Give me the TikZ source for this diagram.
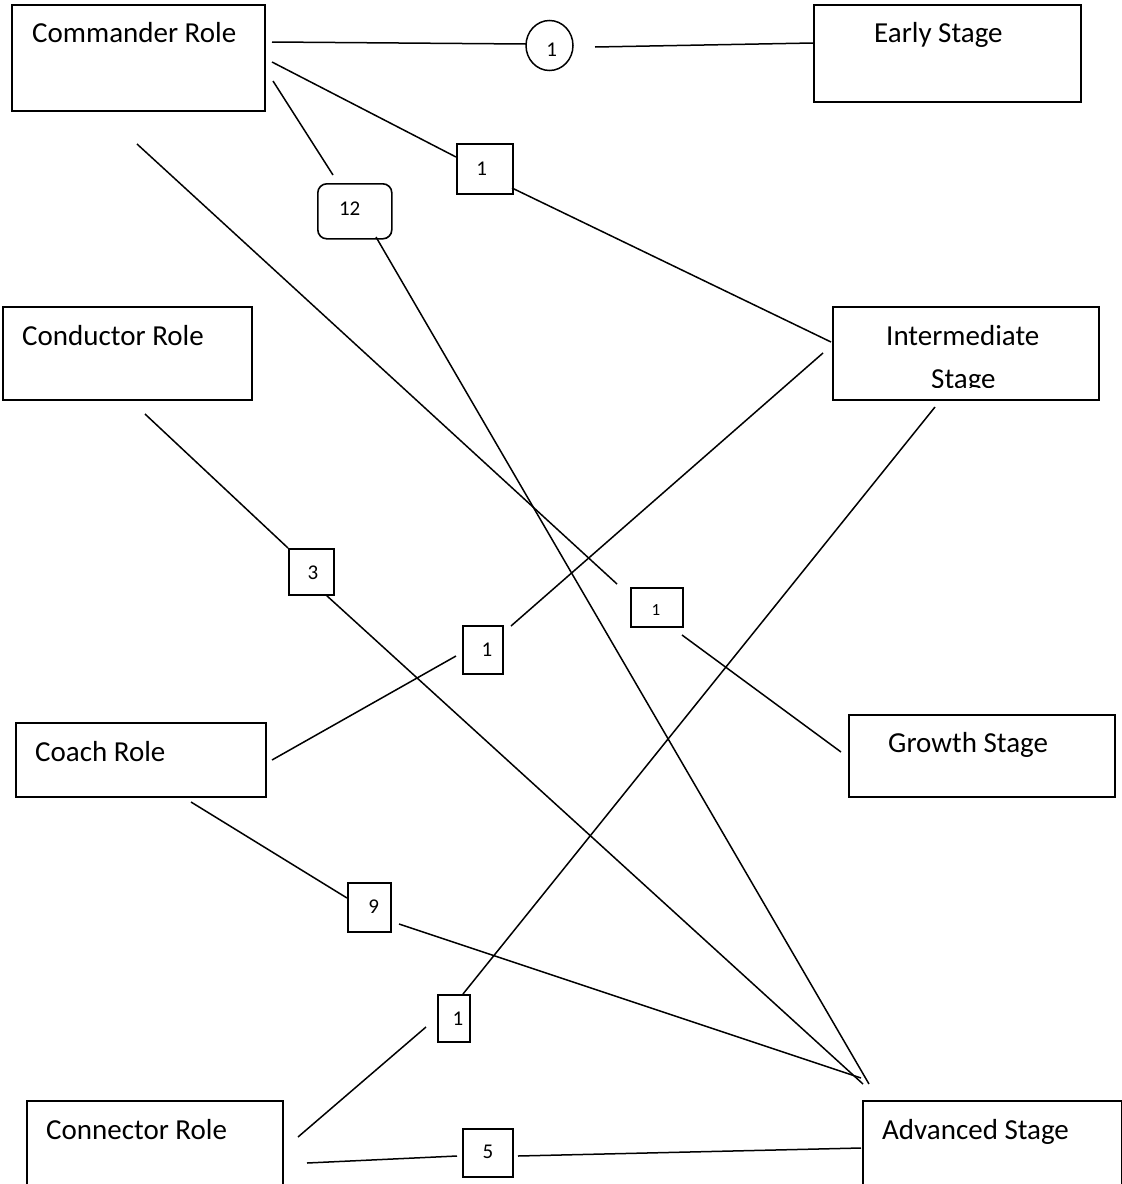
\documentclass[tikz,border=0pt]{standalone}
\usepackage{fontspec}
\setmainfont{Carlito}
\usetikzlibrary{shapes.geometric}
\begin{document}
\begin{tikzpicture}[x=1pt,y=-1pt,
  bigbox/.style={draw=black, line width=1.8pt, rectangle, inner sep=0pt, anchor=north west},
  numbox/.style={draw=black, line width=1.6pt, rectangle, inner sep=0pt, anchor=north west},
  bigtext/.style={inner sep=0pt, anchor=base west, font=\fontsize{29}{43}\selectfont},
  numtext/.style={inner sep=0pt, anchor=center, font=\fontsize{21}{25}\selectfont},
  smalltext/.style={inner sep=0pt, anchor=center, font=\fontsize{17}{20}\selectfont},
  link/.style={draw=black, line width=1.5pt}]
\fill[white] (0,0) rectangle (1122,1184);
\useasboundingbox (0,0) rectangle (1122,1184);

% main boxes
\node[bigbox, minimum width=253pt, minimum height=106pt] (cmd) at (11,4) {};
\node[bigbox, minimum width=267pt, minimum height=97pt] (early) at (813,4) {};
\node[bigbox, minimum width=266pt, minimum height=93pt] (inter) at (832,306) {};
\node[bigbox, minimum width=249pt, minimum height=93pt] (cond) at (2,306) {};
\node[bigbox, minimum width=266pt, minimum height=82pt] (growth) at (848,714) {};
\node[bigbox, minimum width=250pt, minimum height=74pt] (coach) at (15,722) {};
\node[bigbox, minimum width=256pt, minimum height=95pt] (conn) at (26,1100) {};
\node[bigbox, minimum width=259pt, minimum height=95pt] (adv) at (862,1100) {};

% main texts
\node[bigtext] (tcmd) at (32,42) {Commander Role};
\node[bigtext] (tearly) at (874,42) {Early Stage};
\node[bigtext] (tinter) at (886,345) {Intermediate};
\begin{scope}
  \clip (833,307) rectangle (1097,387.5);
  \node[bigtext] (tinter2) at (931,388) {Stage};
\end{scope}
\node[bigtext] (tcond) at (22,345) {Conductor Role};
\node[bigtext] (tgrowth) at (888,752) {Growth Stage};
\node[bigtext] (tcoach) at (35,761) {Coach Role};
\node[bigtext] (tconn) at (46,1139) {Connector Role};
\node[bigtext] (tadv) at (882,1139) {Advanced Stage};

% number boxes
\node[draw=black, ellipse, line width=1.5pt, minimum width=47pt, minimum height=50pt, inner sep=0pt] (c1) at (549.5,45.5) {};
\node[numbox, minimum width=56pt, minimum height=50pt] (b1a) at (456,143) {};
\node[numbox, rounded corners=9pt, minimum width=74pt, minimum height=55pt] (b12) at (317,183) {};
\node[numbox, minimum width=45pt, minimum height=46pt] (b3) at (288,548) {};
\node[numbox, minimum width=52pt, minimum height=39pt] (b1s) at (630,587) {};
\node[numbox, minimum width=40pt, minimum height=48pt] (b1c) at (462,625) {};
\node[numbox, minimum width=43pt, minimum height=49pt] (b9) at (347,882) {};
\node[numbox, minimum width=32pt, minimum height=47pt] (b1n) at (437,994) {};
\node[numbox, minimum width=50pt, minimum height=48pt] (b5) at (462,1128) {};

% number texts
\node[numtext] (tc1) at (551.7,49.3) {1};
\node[numtext] (tb1a) at (481.7,169.2) {1};
\node[numtext] (tb12) at (349.7,208.3) {12};
\node[numtext] (tb3) at (313,572.7) {3};
\node[smalltext] (tb1s) at (656,609.7) {1};
\node[numtext] (tb1c) at (487,649.5) {1};
\node[numtext] (tb9) at (373.6,906.7) {9};
\node[numtext] (tb1n) at (458,1018.8) {1};
\node[numtext] (tb5) at (488,1152) {5};

% connector end points
\coordinate (a1) at (272,42);   \coordinate (a2) at (526,44);
\coordinate (a3) at (595,47);   \coordinate (a4) at (813,43);
\coordinate (b1) at (272,62);   \coordinate (b2) at (456,157);
\coordinate (b3s) at (512,188); \coordinate (b4) at (831,342);
\coordinate (d1) at (273,81);   \coordinate (d2) at (333,175);
\coordinate (d3) at (376,237);  \coordinate (d4) at (869,1084);
\coordinate (e1) at (137,144);  \coordinate (e2) at (617,584);
\coordinate (e3) at (682,635);  \coordinate (e4) at (841,752);
\coordinate (f1) at (145,414);  \coordinate (f2) at (288,548);
\coordinate (f3) at (326,595);  \coordinate (f4) at (863,1084);
\coordinate (g1) at (272,760);  \coordinate (g2) at (456,656);
\coordinate (g3) at (511,626);  \coordinate (g4) at (823,353);
\coordinate (h1) at (191,802);  \coordinate (h2) at (347,898);
\coordinate (h3) at (399,924);  \coordinate (h4) at (861,1078);
\coordinate (i1) at (935,407);  \coordinate (i2) at (463,994);
\coordinate (i3) at (426,1027); \coordinate (i4) at (298,1137);
\coordinate (j1) at (307,1163); \coordinate (j2) at (457,1156);
\coordinate (j3) at (518,1156); \coordinate (j4) at (861,1148);

% connectors
\draw[link] (a1) -- (a2);  \draw[link] (a3) -- (a4);
\draw[link] (b1) -- (b2);  \draw[link] (b3s) -- (b4);
\draw[link] (d1) -- (d2);  \draw[link] (d3) -- (d4);
\draw[link] (e1) -- (e2);  \draw[link] (e3) -- (e4);
\draw[link] (f1) -- (f2);  \draw[link] (f3) -- (f4);
\draw[link] (g1) -- (g2);  \draw[link] (g3) -- (g4);
\draw[link] (h1) -- (h2);  \draw[link] (h3) -- (h4);
\draw[link] (i1) -- (i2);  \draw[link] (i3) -- (i4);
\draw[link] (j1) -- (j2);  \draw[link] (j3) -- (j4);
\end{tikzpicture}
\end{document}
